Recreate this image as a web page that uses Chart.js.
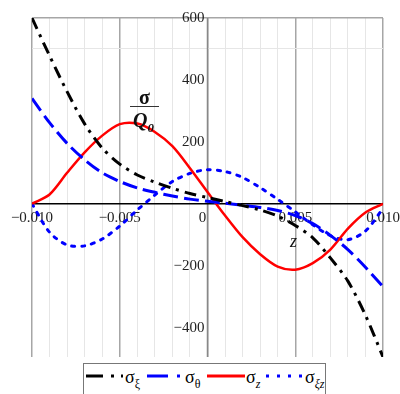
<!DOCTYPE html>
<html>
<head>
<meta charset="utf-8">
<script src="https://cdn.jsdelivr.net/npm/chart.js@4/dist/chart.umd.min.js"></script>
<style>
  body { margin: 0; background: #fff; }
  #wrap { position: relative; width: 400px; height: 394px; overflow: hidden; font-family: "Liberation Serif", serif; }
  #stressChart { position: absolute; left: 0; top: 0; }
  .lbl { position: absolute; color: #111; line-height: 1; }
  #legend { position: absolute; left: 83px; top: 363px; width: 241px; height: 40px; border: 1px solid #777; background: #fff; }
  #legend .item { position: absolute; top: 3px; font-size: 18px; white-space: nowrap; }
  #legend sub { font-size: 12px; vertical-align: -5px; }
  #legend svg { position: absolute; top: 7px; }
</style>
</head>
<body>
<div id="wrap">
  <canvas id="stressChart" width="400" height="394"></canvas>
  <div class="lbl" style="left:139px; top:87px; font-size:20px; font-weight:bold;">σ</div>
  <div style="position:absolute; left:130px; top:106px; width:29px; height:1px; background:#333;"></div>
  <div class="lbl" style="left:133px; top:110px; font-size:20px; font-style:italic; font-weight:bold;">Q<span style="font-size:13px; position:relative; top:5px;">0</span></div>
  <div class="lbl" style="left:290px; top:232px; font-size:18px; font-style:italic;">z</div>
  <div id="legend">
    <svg style="left:2px" width="40" height="10"><line x1="0" y1="5" x2="40" y2="5" stroke="#000" stroke-width="3" stroke-dasharray="17,8,3,7,2,20"/></svg>
    <div class="item" style="left:41px">σ<sub>ξ</sub></div>
    <svg style="left:63px" width="38" height="10"><line x1="0" y1="5" x2="38" y2="5" stroke="#00f" stroke-width="3" stroke-dasharray="21,9,3,20"/></svg>
    <div class="item" style="left:101px">σ<sub>θ</sub></div>
    <svg style="left:123px" width="38" height="10"><line x1="0" y1="5" x2="38" y2="5" stroke="#f00" stroke-width="3"/></svg>
    <div class="item" style="left:162px">σ<sub><i>z</i></sub></div>
    <svg style="left:180px" width="40" height="10"><line x1="2" y1="5" x2="40" y2="5" stroke="#00f" stroke-width="3" stroke-dasharray="3,8"/></svg>
    <div class="item" style="left:221px">σ<sub><i>ξz</i></sub></div>
  </div>
</div>
<script>
// z coordinate (x axis)
const zValues = [-0.010, -0.009, -0.008, -0.007, -0.006, -0.005, -0.004, -0.003, -0.002, -0.001,
  0, 0.001, 0.002, 0.003, 0.004, 0.005, 0.006, 0.007, 0.008, 0.009, 0.010];

// stress components
const sigmaXi = [600, 478, 362, 258, 180, 128, 93, 70, 50, 33, 20, 7, -6, -20, -40, -70, -110, -175, -250, -360, -495];
const sigmaTheta = [340, 262, 195, 142, 100, 72, 51, 37, 25, 15, 8, 2, -5, -12, -22, -38, -64, -102, -148, -205, -268];
const sigmaZ = [0, 30, 100, 166, 220, 257, 259, 232, 186, 115, 38, -38, -108, -163, -203, -213, -192, -148, -80, -28, 0];
const sigmaXiZ = [0, -92, -133, -136, -114, -72, -20, 28, 72, 98, 110, 104, 85, 52, 14, -26, -68, -103, -116, -88, -15];

// tick labels
const xTickValues = [-0.010, -0.005, 0, 0.005, 0.010];
const xTickLabels = ['\u22120.010', '\u22120.005', '0', '0.005', '0.010'];
const yTickValues = [600, 400, 200, -200, -400];
const yTickLabels = ['600', '400', '200', '\u2212200', '\u2212400'];

const toPoints = ys => zValues.map((z, i) => ({ x: z, y: ys[i] }));

// axes through the origin, with labels next to them
const originAxes = {
  id: 'originAxes',
  beforeDatasetsDraw(chart) {
    const { ctx, chartArea, scales: { x, y } } = chart;
    const x0 = x.getPixelForValue(0);
    const y0 = y.getPixelForValue(0);
    ctx.save();
    ctx.lineWidth = 1.5;
    ctx.strokeStyle = '#888';
    ctx.beginPath();
    ctx.moveTo(x0, chartArea.top);
    ctx.lineTo(x0, chartArea.bottom);
    ctx.stroke();
    ctx.strokeStyle = '#000';
    ctx.beginPath();
    ctx.moveTo(chartArea.left, y0);
    ctx.lineTo(chartArea.right, y0);
    ctx.stroke();

    ctx.fillStyle = '#222';
    ctx.font = '15px "Liberation Serif"';
    ctx.textAlign = 'center';
    ctx.textBaseline = 'top';
    xTickValues.forEach((v, i) => {
      const dx = v === 0 ? -5 : 0;
      ctx.fillText(xTickLabels[i], x.getPixelForValue(v) + dx, y0 + 7);
    });
    ctx.textAlign = 'right';
    ctx.textBaseline = 'middle';
    yTickValues.forEach((v, i) => ctx.fillText(yTickLabels[i], x0 - 3, y.getPixelForValue(v)));
    ctx.restore();
  }
};

const isMajorX = v => Math.round(v * 1000) % 5 === 0;

new Chart(document.getElementById('stressChart'), {
  type: 'line',
  data: {
    datasets: [
      { label: 'σξ', data: toPoints(sigmaXi), borderColor: '#000', borderDash: [12, 6, 3, 6], borderWidth: 3 },
      { label: 'σθ', data: toPoints(sigmaTheta), borderColor: '#0000ff', borderDash: [15, 6], borderWidth: 3 },
      { label: 'σz', data: toPoints(sigmaZ), borderColor: '#ff0000', borderWidth: 2.5 },
      { label: 'σξz', data: toPoints(sigmaXiZ), borderColor: '#0000ff', borderDash: [3, 7], borderWidth: 3, borderCapStyle: 'round' }
    ]
  },
  options: {
    responsive: false,
    animation: false,
    layout: { autoPadding: false, padding: { left: 32, right: 17, top: 18, bottom: 37 } },
    elements: { point: { radius: 0 }, line: { tension: 0.3 } },
    plugins: { legend: { display: false }, tooltip: { enabled: false } },
    scales: {
      x: {
        type: 'linear',
        min: -0.01,
        max: 0.01,
        border: { display: false },
        grid: {
          drawTicks: false,
          color: c => isMajorX(c.tick.value) ? '#a6a6a6' : '#e6e6e6',
          lineWidth: c => isMajorX(c.tick.value) ? 1.5 : 1
        },
        ticks: { display: false, stepSize: 0.001, autoSkip: false }
      },
      y: {
        min: -495,
        max: 600,
        border: { display: false },
        grid: {
          drawTicks: false,
          color: c => {
            const v = Math.round(c.tick.value);
            if (v % 200 === 0) return '#a6a6a6';
            if (v % 100 === 0) return '#e6e6e6';
            return 'rgba(0,0,0,0)';
          },
          lineWidth: c => Math.round(c.tick.value) % 200 === 0 ? 1.5 : 1
        },
        ticks: { display: false, stepSize: 100, autoSkip: false }
      }
    }
  },
  plugins: [originAxes]
});
</script>
</body>
</html>
